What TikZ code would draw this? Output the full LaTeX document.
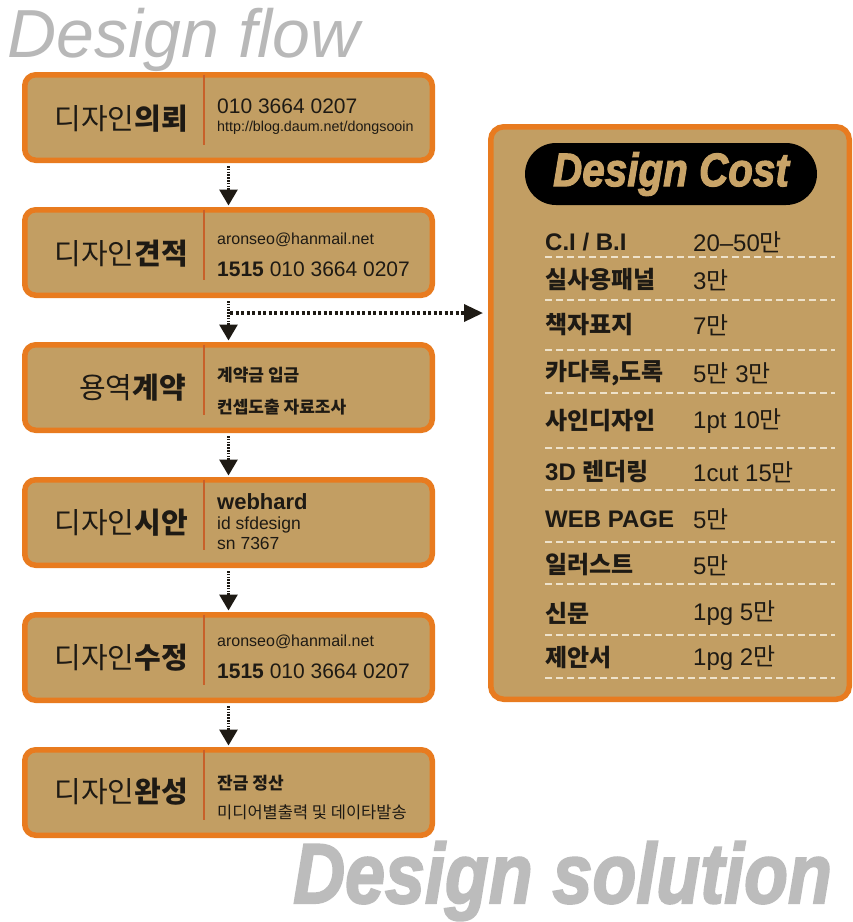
\documentclass[tikz,border=0pt]{standalone}
\usepackage{graphicx}
\usepackage{fontspec}
\setmainfont{Liberation Sans}
\newfontfamily\kr{Noto Sans CJK KR}
\newfontfamily\heavy{Liberation Sans}[FakeBold=2.5]
\usetikzlibrary{arrows.meta,calc}
\definecolor{tanf}{HTML}{C29E63}
\definecolor{orng}{HTML}{E87B1F}
\definecolor{divc}{HTML}{C8602A}
\definecolor{ink}{HTML}{1E1A14}
\definecolor{ttl}{HTML}{B8B8B8}
\definecolor{solc}{HTML}{BCBCBC}
\definecolor{costtxt}{HTML}{C9A468}
\definecolor{rowc}{HTML}{EEE2CA}
\newcommand\fs[1]{\fontsize{#1}{#1}\selectfont}
\begin{document}
\begin{tikzpicture}[x=1pt,y=-1pt,
  flowbox/.style={draw=orng, fill=tanf, line width=5.5pt, rounded corners=11pt,
    minimum width=407.5pt, minimum height=85.5pt, inner sep=0pt},
  divline/.style={draw=divc, line width=1.3pt},
  conn/.style={draw=ink, line width=3pt, dash pattern=on 1.6pt off 1.2pt,
    -{Triangle[width=18pt,length=16pt]}, shorten <=3pt, shorten >=1.5pt},
  hconn/.style={draw=ink, line width=3.5pt, dash pattern=on 3pt off 2.5pt,
    -{Triangle[width=17pt,length=19pt]}, shorten >=5pt},
  lbl/.style={anchor=east, inner sep=0pt, text=ink, font=\kr\fs{29}},
  info/.style={anchor=west, inner sep=0pt, text=ink},
  costL/.style={anchor=west, inner sep=0pt, text=ink, font=\bfseries\fs{24}},
  costR/.style={anchor=west, inner sep=0pt, text=ink, font=\fs{24}},
  rowline/.style={draw=rowc, line width=1.2pt, dash pattern=on 7pt off 4pt}
]
\useasboundingbox (0,0) rectangle (853,922);
\fill[white] (0,0) rectangle (853,922);

% titles
\node[anchor=base west, inner sep=0pt, text=ttl, font=\itshape\fs{68}] (title) at (7,57) {Design\hspace{20pt}flow};
\node[anchor=base west, inner sep=0pt, text=solc, font=\heavy\bfseries\itshape\fs{85}] (sol) at (293,903) {\scalebox{0.845}[1]{Design solution}};

% flow boxes
\foreach \i/\t in {1/72,2/207,3/342,4/477,5/612,6/747}{
  \node[flowbox] (b\i) at (228.5,\t+45.5) {};
  \draw[divline] ($(b\i.north)+(-24.5,2.5)$) -- ($(b\i.south)+(-24.5,-18)$);
}

% left labels
\node[lbl] (l1) at (188,119) {디자인{\bfseries 의뢰}};
\node[lbl] (l2) at (188,254) {디자인{\bfseries 견적}};
\node[lbl] (l3) at (186,388) {용역{\bfseries 계약}};
\node[lbl] (l4) at (188,523) {디자인{\bfseries 시안}};
\node[lbl] (l5) at (188,658) {디자인{\bfseries 수정}};
\node[lbl] (l6) at (188,792) {디자인{\bfseries 완성}};

% right info texts
\node[info, font=\fs{21}] (t1a) at (217,106.5) {010 3664 0207};
\node[info, font=\fs{14.3}] (t1b) at (217,128) {http://blog.daum.net/dongsooin};
\node[info, font=\fs{16}] (t2a) at (217,240) {aronseo@hanmail.net};
\node[info, font=\fs{21}] (t2b) at (217,269) {{\bfseries 1515} 010 3664 0207};
\node[info, font=\kr\bfseries\fs{17}] (t3a) at (217,375) {계약금 입금};
\node[info, font=\kr\bfseries\fs{17}] (t3b) at (217,407) {컨셉도출 자료조사};
\node[info, font=\bfseries\fs{22}] (t4a) at (217,502) {webhard};
\node[info, font=\fs{17.5}] (t4b) at (217,525) {id sfdesign};
\node[info, font=\fs{17.5}] (t4c) at (217,543) {sn 7367};
\node[info, font=\fs{16}] (t5a) at (217,642) {aronseo@hanmail.net};
\node[info, font=\fs{21}] (t5b) at (217,671) {{\bfseries 1515} 010 3664 0207};
\node[info, font=\kr\bfseries\fs{17}] (t6a) at (217,783) {잔금 정산};
\node[info, font=\kr\fs{16.5}] (t6b) at (217,812) {미디어별출력 및 데이타발송};

% cost panel
\node[draw=orng, fill=tanf, line width=5.5pt, rounded corners=13pt,
  minimum width=358.5pt, minimum height=572.5pt, inner sep=0pt] (cost) at (670,413) {};
\node[fill=black, rounded corners=31pt, minimum width=292pt, minimum height=62pt,
  inner sep=0pt, text=costtxt, font=\heavy\bfseries\itshape\fs{47}] (pill) at (671,174) {\scalebox{0.86}[1]{Design Cost}};

% rows
\node[costL] (c1l) at (545,242) {C.I / B.I};
\node[costR] (c1r) at (693,242) {20--50{\kr 만}};
\node[costL] (c2l) at (545,280) {\kr 실사용패널};
\node[costR] (c2r) at (693,280) {3{\kr 만}};
\node[costL] (c3l) at (545,325) {\kr 책자표지};
\node[costR] (c3r) at (693,325) {7{\kr 만}};
\node[costL] (c4l) at (545,373) {\kr 카다록,도록};
\node[costR] (c4r) at (693,373) {5{\kr 만} 3{\kr 만}};
\node[costL] (c5l) at (545,421) {\kr 사인디자인};
\node[costR] (c5r) at (693,421) {1pt 10{\kr 만}};
\node[costL] (c6l) at (545,472) {3D {\kr 렌더링}};
\node[costR] (c6r) at (693,472) {1cut 15{\kr 만}};
\node[costL] (c7l) at (545,519) {WEB PAGE};
\node[costR] (c7r) at (693,519) {5{\kr 만}};
\node[costL] (c8l) at (545,565) {\kr 일러스트};
\node[costR] (c8r) at (693,565) {5{\kr 만}};
\node[costL] (c9l) at (545,613) {\kr 신문};
\node[costR] (c9r) at (693,613) {1pg 5{\kr 만}};
\node[costL] (c10l) at (545,658) {\kr 제안서};
\node[costR] (c10r) at (693,658) {1pg 2{\kr 만}};
\foreach \y in {257,300,350,393,448,490,542,584,635,678}{
  \draw[rowline] (545,\y) -- (835,\y);
}

% connectors
\draw[conn] (b1.south) -- (b2.north);
\draw[conn] (b2.south) -- (b3.north);
\draw[conn] (b3.south) -- (b4.north);
\draw[conn] (b4.south) -- (b5.north);
\draw[conn] (b5.south) -- (b6.north);
\coordinate (br) at (230,313);
\draw[hconn] (br) -- (cost.west |- br);
\end{tikzpicture}
\end{document}
